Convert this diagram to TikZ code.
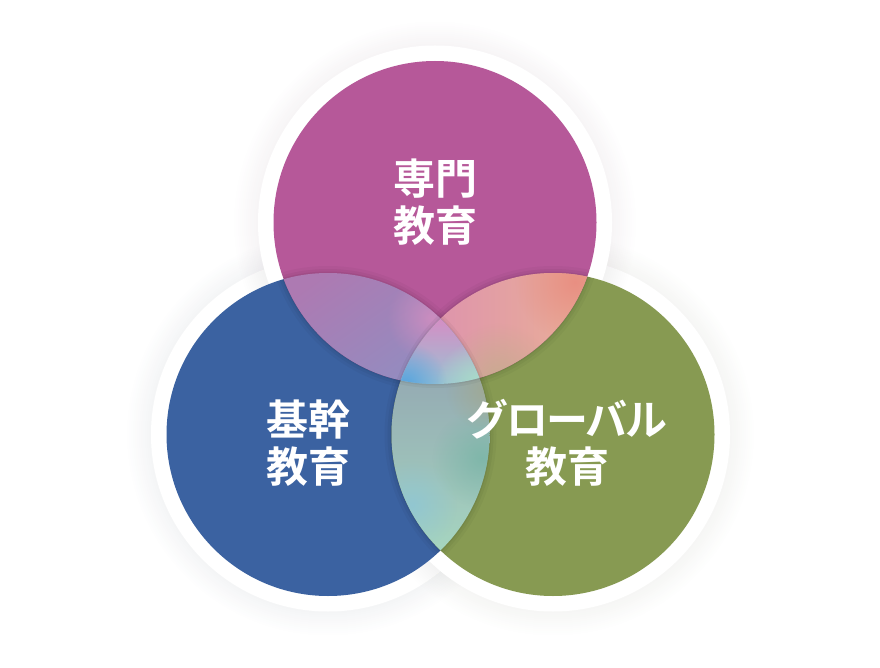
\documentclass[tikz,border=0pt]{standalone}
\usepackage{fontspec}
\newfontfamily\jpfont{Noto Sans CJK JP Bold}
\newfontfamily\jpfontp[LetterSpace=-5]{Noto Sans CJK JP Bold}
\usetikzlibrary{fadings}
\definecolor{cmag}{HTML}{B65899}
\definecolor{cblue}{HTML}{3B62A1}
\definecolor{cgreen}{HTML}{879A52}
% lens T-L
\definecolor{tlA}{HTML}{AD7AB2}
\definecolor{tlB}{HTML}{8F8FC2}
\definecolor{tlM}{HTML}{B99AC6}
\definecolor{tlD}{HTML}{D48EC0}
% lens T-R
\definecolor{trA}{HTML}{DB8DB2}
\definecolor{trB}{HTML}{EAB096}
\definecolor{trC}{HTML}{E88C80}
\definecolor{trD}{HTML}{C6AC8E}
% lens L-R
\definecolor{lrA}{HTML}{8E9BAE}
\definecolor{lrB}{HTML}{84B8B0}
\definecolor{lrC}{HTML}{A6D6C0}
\definecolor{lrE}{HTML}{78B5A6}
\definecolor{lrF}{HTML}{8EC6D6}
\definecolor{lrG}{HTML}{A2A88E}
% triple
\definecolor{xA}{HTML}{D68CC4}
\definecolor{xB}{HTML}{98C4D4}
\definecolor{xC}{HTML}{58A4DE}
\definecolor{xD}{HTML}{AADCC8}
\tikzfading[name=glowfade, inner color=transparent!0, outer color=transparent!100]
\tikzset{
  label text/.style={text=white, font=\jpfont\fontsize{42}{47}\selectfont, align=center},
  glow/.style={fill=#1, path fading=glowfade},
  rimshadow/.style={draw=black, line width=#1},
}
\begin{document}
\begin{tikzpicture}[x=1pt,y=-1pt]
\useasboundingbox (0,0) rectangle (880,668);
\coordinate (T) at (435,222.5);
\coordinate (L) at (328,434.5);
\coordinate (R) at (553,434.5);
\def\rr{161.5pt}
% shadows and white rings
\foreach \c/\col in {L/cblue,R/cgreen,T/cmag}{
  \foreach \k in {1,...,12}{
    \fill[\col!45!black, opacity=0.0045] (\c) circle ({177pt+\k*2pt});
  }
  \fill[white] (\c) circle (177pt);
}
% base circles
\fill[cblue] (L) circle (\rr);
\fill[cgreen] (R) circle (\rr);
\fill[cmag] (T) circle (\rr);
% rim shadows of the lenses
\begin{scope}
  \clip (T) circle (\rr) (L) circle (\rr) (R) circle (\rr);
  \foreach \a/\b in {T/L,L/T,T/R,R/T,L/R,R/L}{
    \begin{scope}
      \clip (\a) circle (\rr);
      \draw[rimshadow=14pt, opacity=0.03] (\b) circle (\rr);
      \draw[rimshadow=8pt, opacity=0.04] (\b) circle (\rr);
      \draw[rimshadow=3pt, opacity=0.05] (\b) circle (\rr);
    \end{scope}
  }
\end{scope}
% lens T-L
\begin{scope}
  \clip (T) circle (\rr);
  \clip (L) circle (\rr);
  \shade[top color=tlA, middle color=tlM, bottom color=tlB, shading angle=35]
    (278,268) rectangle (484,390);
  \fill[glow=tlD, opacity=0.85] (432,318) circle (45pt);
\end{scope}
% lens T-R
\begin{scope}
  \clip (T) circle (\rr);
  \clip (R) circle (\rr);
  \shade[top color=trA, bottom color=trB, shading angle=90]
    (396,270) rectangle (592,386);
  \fill[glow=trC, opacity=0.9] (575,282) circle (60pt);
  \fill[glow=trD, opacity=0.9] (498,378) circle (55pt);
\end{scope}
% lens L-R
\begin{scope}
  \clip (L) circle (\rr);
  \clip (R) circle (\rr);
  \shade[top color=lrA, middle color=lrB, bottom color=lrC]
    (386,314) rectangle (496,554);
  \fill[glow=lrE, opacity=0.8] (482,458) circle (50pt);
  \fill[glow=lrF, opacity=0.8] (412,505) circle (45pt);
  \fill[glow=lrG, opacity=0.8] (486,390) circle (40pt);
\end{scope}
% triple rim shadow
\foreach \a/\b/\c in {T/L/R,T/R/L,L/R/T}{
  \begin{scope}
    \clip (\a) circle (\rr);
    \clip (\b) circle (\rr);
    \draw[rimshadow=8pt, opacity=0.04] (\c) circle (\rr);
    \draw[rimshadow=3pt, opacity=0.05] (\c) circle (\rr);
  \end{scope}
}
% triple
\begin{scope}
  \clip (T) circle (\rr);
  \clip (L) circle (\rr);
  \clip (R) circle (\rr);
  \shade[top color=xA, bottom color=xB] (396,316) rectangle (486,386);
  \fill[glow=xC] (405,384) circle (42pt);
  \fill[glow=xD] (478,382) circle (42pt);
\end{scope}
% labels
\node[label text] (tT) at (435,202) {専門\\教育};
\node[label text] (tL) at (308.5,443) {基幹\\教育};
\node[label text] (tR) at (567,443) {{\jpfontp\fontsize{42}{47}\selectfont グローバル}\\教育};
\end{tikzpicture}
\end{document}
